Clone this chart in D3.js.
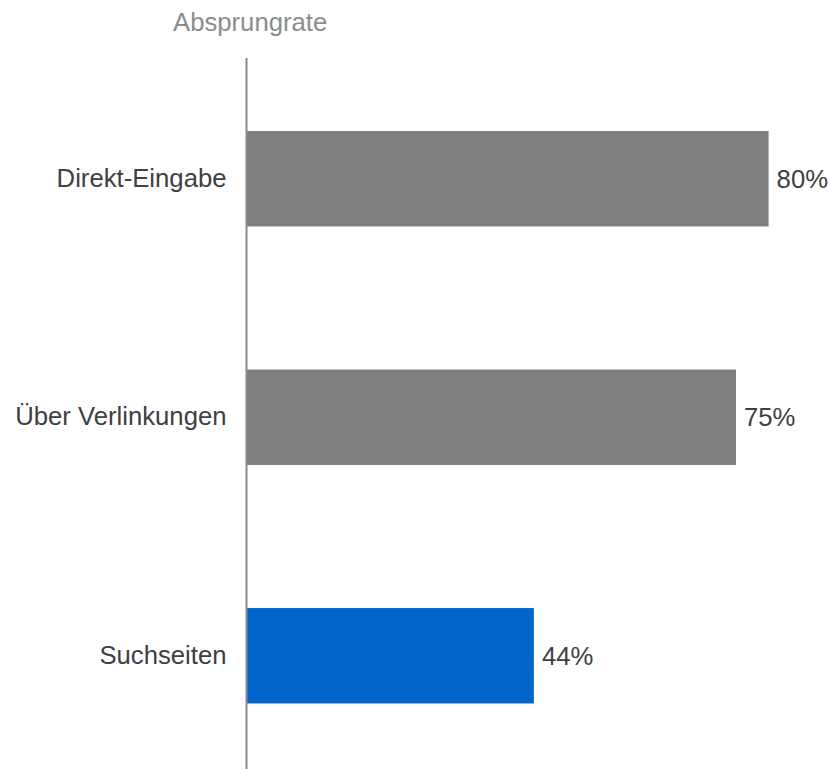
<!DOCTYPE html>
<html>
<head>
<meta charset="utf-8">
<script src="https://cdn.jsdelivr.net/npm/d3@7"></script>
<style>
  html, body { margin: 0; padding: 0; background: #fff; }
  svg { display: block; font-family: "Liberation Sans", Arial, sans-serif; }
</style>
</head>
<body>
<svg id="chart" width="830" height="769"></svg>
<script>
// Bounce rate by traffic source
const categories = ["Direkt-Eingabe", "Über Verlinkungen", "Suchseiten"];
const values = [80, 75, 44];
const barColors = ["#7f7f7f", "#7f7f7f", "#0066cc"];
const axisTitle = "Absprungrate";

const fontSize = 25.7;
const svg = d3.select("#chart");

const x = d3.scaleLinear().domain([0, 100]).range([247, 899]);
const y = d3.scaleBand()
  .domain(categories)
  .range([59.5, 775])
  .paddingInner(0.6)
  .paddingOuter(0.3);

// bars
svg.append("g").selectAll("rect")
  .data(categories)
  .join("rect")
  .attr("x", x(0))
  .attr("y", d => y(d))
  .attr("width", (d, i) => x(values[i]) - x(0))
  .attr("height", y.bandwidth())
  .attr("fill", (d, i) => barColors[i]);

// category axis
const yAxis = svg.append("g")
  .attr("transform", `translate(${x(0) - 0.5},0)`)
  .call(d3.axisLeft(y).tickSize(0).tickPadding(20));
yAxis.select(".domain")
  .attr("d", "M0,58V769")
  .attr("stroke", "#8a8a8a")
  .attr("stroke-width", 2);
yAxis.selectAll("text")
  .attr("font-size", fontSize)
  .attr("font-family", "Liberation Sans, Arial, sans-serif")
  .attr("fill", "#404040");

// value labels
svg.append("g").selectAll("text")
  .data(categories)
  .join("text")
  .attr("x", (d, i) => x(values[i]) + 8)
  .attr("y", d => y(d) + y.bandwidth() / 2)
  .attr("dy", "0.35em")
  .attr("font-size", fontSize)
  .attr("fill", "#404040")
  .text((d, i) => values[i] + "%");

// axis title
svg.append("text")
  .attr("x", 173)
  .attr("y", 31)
  .attr("font-size", fontSize)
  .attr("fill", "#8c8c8c")
  .text(axisTitle);
</script>
</body>
</html>
